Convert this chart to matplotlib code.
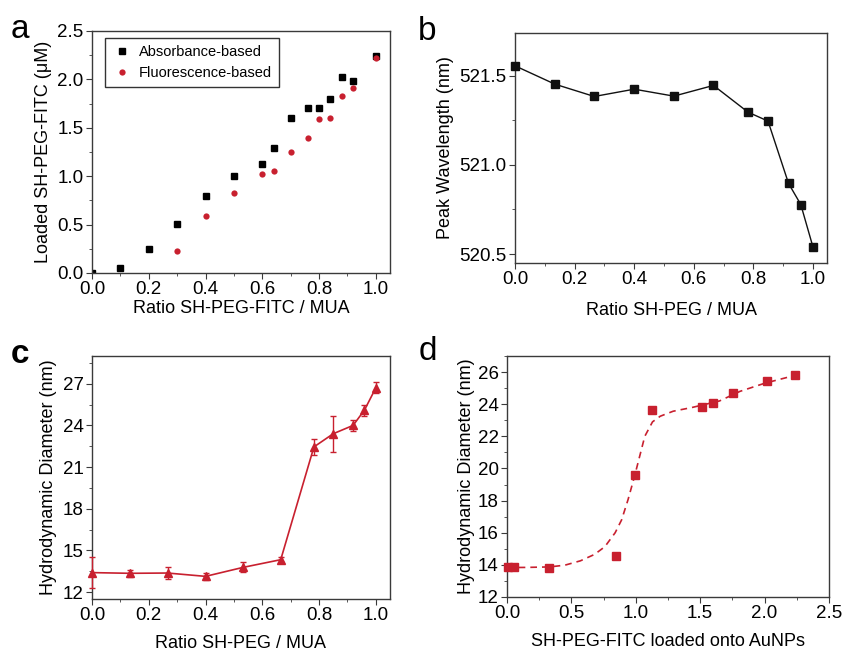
import matplotlib.pyplot as plt
from matplotlib.ticker import MultipleLocator

plt.rcParams['font.family'] = ['Liberation Sans', 'DejaVu Sans']
plt.rcParams['axes.linewidth'] = 1.0
plt.rcParams['axes.edgecolor'] = '#3a3a3a'

RED = '#c8202f'

# panel a: loaded SH-PEG-FITC vs ratio
ratio_abs = [0.0, 0.1, 0.2, 0.3, 0.4, 0.5, 0.6, 0.64, 0.7, 0.76, 0.8, 0.84, 0.88, 0.92, 1.0]
loaded_abs = [0.0, 0.05, 0.25, 0.505, 0.80, 1.00, 1.125, 1.295, 1.60, 1.705, 1.705, 1.80, 2.02, 1.985, 2.245]
ratio_fl = [0.3, 0.4, 0.5, 0.6, 0.64, 0.7, 0.76, 0.8, 0.84, 0.88, 0.92, 1.0]
loaded_fl = [0.23, 0.585, 0.83, 1.02, 1.05, 1.25, 1.395, 1.59, 1.60, 1.825, 1.91, 2.22]

# panel b: peak wavelength
ratio_b = [0.0, 0.134, 0.266, 0.40, 0.533, 0.666, 0.782, 0.849, 0.918, 0.959, 1.0]
peak_b = [521.556, 521.453, 521.384, 521.425, 521.386, 521.446, 521.296, 521.246, 520.896, 520.778, 520.539]

# panel c: hydrodynamic diameter vs ratio
ratio_c = [0.0, 0.134, 0.266, 0.40, 0.533, 0.665, 0.782, 0.85, 0.92, 0.96, 1.0]
diam_c = [13.4, 13.35, 13.37, 13.13, 13.78, 14.33, 22.45, 23.4, 24.0, 25.1, 26.7]
err_c = [1.1, 0.25, 0.45, 0.25, 0.35, 0.2, 0.6, 1.3, 0.4, 0.4, 0.4]

# panel d: hydrodynamic diameter vs loaded amount
loaded_d = [0.008, 0.057, 0.33, 0.847, 0.997, 1.126, 1.516, 1.60, 1.756, 2.022, 2.24]
diam_d = [13.85, 13.89, 13.83, 14.58, 19.59, 23.63, 23.82, 24.05, 24.71, 25.44, 25.81]
# fitted curve, points
fit_x = [0.0, 0.15, 0.33, 0.45, 0.57, 0.68, 0.76, 0.84, 0.89, 0.94, 0.99, 1.03,
         1.07, 1.13, 1.19, 1.29, 1.44, 1.65, 1.81, 2.0, 2.24]
fit_y = [13.83, 13.84, 13.87, 13.98, 14.25, 14.65, 15.13, 16.0, 16.8, 18.06, 19.5, 20.75,
         22.0, 22.9, 23.25, 23.56, 23.8, 24.2, 24.8, 25.3, 25.8]

fig = plt.figure(figsize=(8.45, 6.54), dpi=100)
ax_a = fig.add_axes([0.1089, 0.5826, 0.3526, 0.37])
ax_b = fig.add_axes([0.6095, 0.5979, 0.3692, 0.3516])
ax_c = fig.add_axes([0.1089, 0.0841, 0.3526, 0.3716])
ax_d = fig.add_axes([0.6, 0.0872, 0.381, 0.3685])


def style(ax):
    ax.tick_params(which='both', direction='out', top=False, right=False,
                   labelsize=13.5, color='#3a3a3a', pad=2)
    ax.tick_params(which='major', length=4)
    ax.tick_params(which='minor', length=2.5)


# a
ax_a.plot(ratio_abs, loaded_abs, 's', color='black', ms=4, label='Absorbance-based')
ax_a.plot(ratio_fl, loaded_fl, 'o', color=RED, ms=4.5, mec='none', label='Fluorescence-based')
ax_a.set_xlim(0, 1.05)
ax_a.set_ylim(0, 2.5)
ax_a.xaxis.set_major_locator(MultipleLocator(0.2))
ax_a.xaxis.set_minor_locator(MultipleLocator(0.1))
ax_a.yaxis.set_major_locator(MultipleLocator(0.5))
ax_a.yaxis.set_minor_locator(MultipleLocator(0.25))
ax_a.set_xlabel('Ratio SH-PEG-FITC / MUA', fontsize=13, labelpad=1)
ax_a.set_ylabel('Loaded SH-PEG-FITC (\u03bcM)', fontsize=13, labelpad=4)
leg = ax_a.legend(loc='upper left', fontsize=10.5, frameon=True, fancybox=False,
                  edgecolor='black', handletextpad=0.5, borderpad=0.45,
                  borderaxespad=0, bbox_to_anchor=(0.043, 0.97), handlelength=1.4)
leg.get_frame().set_linewidth(1.0)
style(ax_a)

# b
ax_b.plot(ratio_b, peak_b, '-s', color='#111111', lw=1.0, ms=5.5, clip_on=False, zorder=3)
ax_b.set_xlim(0, 1.047)
ax_b.set_ylim(520.45, 521.74)
ax_b.xaxis.set_major_locator(MultipleLocator(0.2))
ax_b.xaxis.set_minor_locator(MultipleLocator(0.1))
ax_b.yaxis.set_major_locator(MultipleLocator(0.5))
ax_b.yaxis.set_minor_locator(MultipleLocator(0.25))
ax_b.set_xlabel('Ratio SH-PEG / MUA', fontsize=13, labelpad=10)
ax_b.set_ylabel('Peak Wavelength (nm)', fontsize=13, labelpad=4)
style(ax_b)

# c
ax_c.errorbar(ratio_c, diam_c, yerr=err_c, fmt='-^', color=RED, lw=1.2, ms=6,
              capsize=2.5, elinewidth=1.0, capthick=1.0, clip_on=False, zorder=3)
ax_c.set_xlim(0, 1.05)
ax_c.set_ylim(11.5, 29)
ax_c.xaxis.set_major_locator(MultipleLocator(0.2))
ax_c.xaxis.set_minor_locator(MultipleLocator(0.1))
ax_c.yaxis.set_major_locator(MultipleLocator(3))
ax_c.yaxis.set_minor_locator(MultipleLocator(1.5))
ax_c.set_xlabel('Ratio SH-PEG / MUA', fontsize=13, labelpad=8)
ax_c.set_ylabel('Hydrodynamic Diameter (nm)', fontsize=13, labelpad=4)
style(ax_c)

# d
ax_d.plot(fit_x, fit_y, '--', color=RED, lw=1.2, dashes=(4, 3))
ax_d.plot(loaded_d, diam_d, 's', color=RED, ms=6, clip_on=False, zorder=3)
ax_d.set_xlim(0, 2.5)
ax_d.set_ylim(12, 27)
ax_d.xaxis.set_major_locator(MultipleLocator(0.5))
ax_d.xaxis.set_minor_locator(MultipleLocator(0.25))
ax_d.yaxis.set_major_locator(MultipleLocator(2))
ax_d.yaxis.set_minor_locator(MultipleLocator(1))
ax_d.set_xlabel('SH-PEG-FITC loaded onto AuNPs', fontsize=13, labelpad=8)
ax_d.set_ylabel('Hydrodynamic Diameter (nm)', fontsize=13, labelpad=2)
style(ax_d)

fig.text(0.013, 0.955, 'a', fontsize=24, va='center')
fig.text(0.495, 0.952, 'b', fontsize=24, va='center')
fig.text(0.013, 0.458, 'c', fontsize=24, va='center', fontweight='bold')
fig.text(0.495, 0.462, 'd', fontsize=24, va='center')

fig.savefig('out.png', dpi=100)
